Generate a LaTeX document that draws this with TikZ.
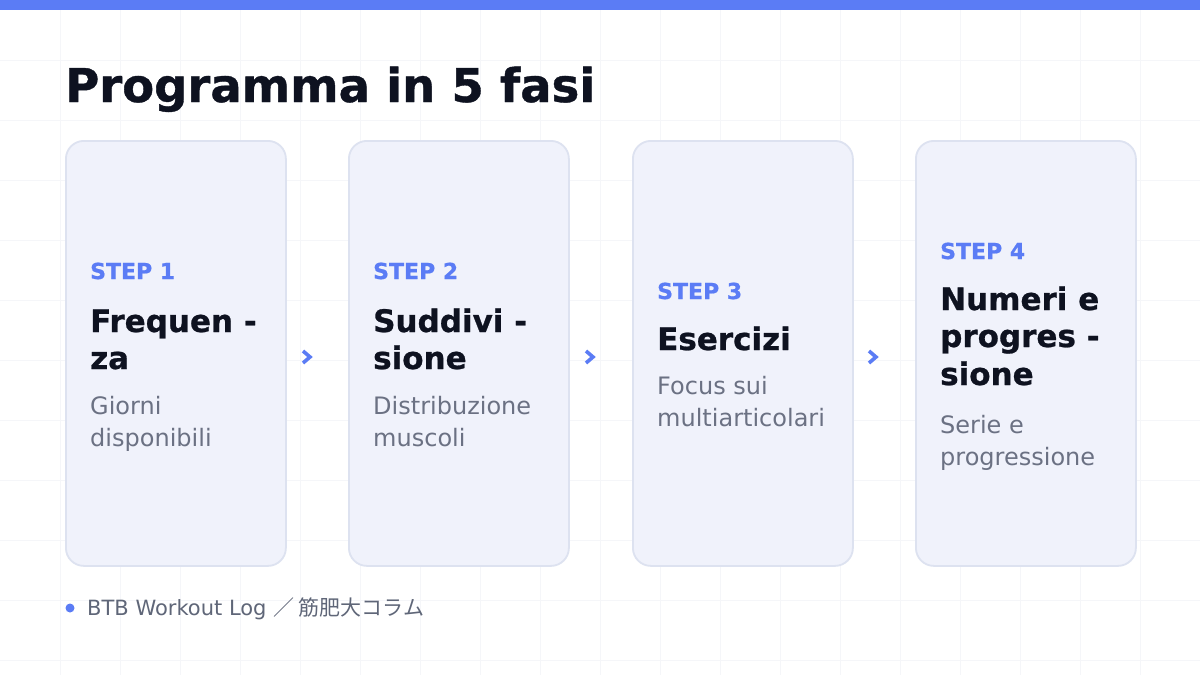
\documentclass[tikz,border=0pt]{standalone}
\usepackage{fontspec}
\setmainfont{DejaVu Sans}
\newfontfamily\cjkfont{Noto Sans CJK JP}
\newfontfamily\heavyfont{DejaVu Sans Bold}[FakeBold=0.8]
\definecolor{brand}{HTML}{5B7CF5}
\definecolor{ink}{HTML}{0E1220}
\definecolor{muted}{HTML}{6B7183}
\definecolor{footgray}{HTML}{5F6678}
\definecolor{cardfill}{HTML}{F0F2FB}
\definecolor{cardline}{HTML}{DDE2F0}
\definecolor{gridc}{HTML}{F5F6F9}
\begin{document}
\begin{tikzpicture}[x=1pt,y=-1pt,
  card/.style={draw=cardline, line width=1.8pt, fill=cardfill, rounded corners=18pt,
    minimum width=220pt, minimum height=425pt, anchor=north west, inner sep=0pt},
  steplbl/.style={anchor=base west, inner sep=0pt, text=brand, font=\fontsize{22}{26}\selectfont\heavyfont},
  head/.style={anchor=base west, inner sep=0pt, text=ink, font=\fontsize{31}{37}\selectfont\heavyfont},
  desc/.style={anchor=base west, inner sep=0pt, text=muted, font=\fontsize{24}{32}\selectfont},
  chev/.style={draw=brand, line width=3.6pt, line join=miter, line cap=butt},
  gridline/.style={draw=gridc, line width=0.8pt},
]
\useasboundingbox (0,0) rectangle (1200,675);
\fill[white] (0,0) rectangle (1200,675);
% grid
\foreach \gx in {60,120,...,1140} \draw[gridline] (\gx,0) -- (\gx,675);
\foreach \gy in {60,120,...,660} \draw[gridline] (0,\gy) -- (1200,\gy);
% top bar
\fill[brand] (0,0) rectangle (1200,10);
% title
\node[anchor=base west, inner sep=0pt, text=ink, font=\fontsize{46.5}{50}\selectfont\heavyfont] (title) at (65,102) {Programma in 5 fasi};
% cards
\node[card] (card1) at (65,140) {};
\node[card] (card2) at (348,140) {};
\node[card] (card3) at (632,140) {};
\node[card] (card4) at (915,140) {};
% card 1
\node[steplbl] (s1) at (90,279) {STEP 1};
\node[head] (h1a) at (90,332) {Frequen -};
\node[head] (h1b) at (90,369) {za};
\node[desc] (d1a) at (90,414) {Giorni};
\node[desc] (d1b) at (90,446) {disponibili};
% card 2
\node[steplbl] (s2) at (373,279) {STEP 2};
\node[head] (h2a) at (373,332) {Suddivi -};
\node[head] (h2b) at (373,369) {sione};
\node[desc] (d2a) at (373,414) {Distribuzione};
\node[desc] (d2b) at (373,446) {muscoli};
% card 3
\node[steplbl] (s3) at (657,299) {STEP 3};
\node[head] (h3a) at (657,350) {Esercizi};
\node[desc] (d3a) at (657,394) {Focus sui};
\node[desc] (d3b) at (657,426) {multiarticolari};
% card 4
\node[steplbl] (s4) at (940,259) {STEP 4};
\node[head] (h4a) at (940,310) {Numeri e};
\node[head] (h4b) at (940,347) {progres -};
\node[head] (h4c) at (940,385) {sione};
\node[desc] (d4a) at (940,433) {Serie e};
\node[desc] (d4b) at (940,465) {progressione};
% chevrons
\coordinate (k12) at (307,357);
\coordinate (k23) at (590,357);
\coordinate (k34) at (873,357);
\foreach \k in {k12,k23,k34}
  \draw[chev] ([shift={(-4,-6)}]\k) -- ([shift={(3,0)}]\k) -- ([shift={(-4,6)}]\k);
% footer
\fill[brand] (70,608) circle (4.5);
\node[anchor=base west, inner sep=0pt, text=footgray, font=\fontsize{21}{24}\selectfont] (foot) at (87,615) {BTB Workout Log {\cjkfont ／ 筋肥大コラム}};
\end{tikzpicture}
\end{document}
